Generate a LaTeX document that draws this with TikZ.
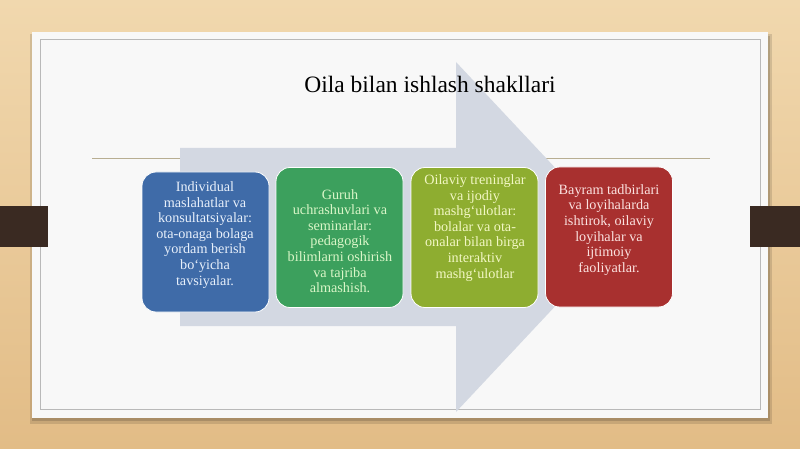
\documentclass[tikz,border=0pt]{standalone}
\usepackage{fontspec}
\setmainfont{Liberation Serif}
\definecolor{woodA}{HTML}{F1D8AE}
\definecolor{woodB}{HTML}{E2BC86}
\definecolor{panel}{HTML}{F8F8F8}
\definecolor{tab}{HTML}{3A2A22}
\definecolor{arrowc}{HTML}{D3D8E2}
\definecolor{rulec}{HTML}{B8AE92}
\definecolor{boxA}{HTML}{3F6BA8}
\definecolor{boxB}{HTML}{3CA05D}
\definecolor{boxC}{HTML}{8EAD30}
\definecolor{boxD}{HTML}{A8302F}
\definecolor{txtA}{HTML}{E8F0FB}
\definecolor{txtB}{HTML}{DAF6C8}
\definecolor{txtC}{HTML}{F2F7C4}
\definecolor{txtD}{HTML}{FBE2E0}
\tikzset{
  card/.style={draw=white, line width=0.8pt, rounded corners=14pt, minimum width=127pt, minimum height=140pt, inner sep=0pt},
  cardtext/.style={align=center, inner sep=0pt, font=\fontsize{14.2}{15.6}\selectfont},
}
\begin{document}
\begin{tikzpicture}[x=1pt,y=-1pt]
\useasboundingbox (0,0) rectangle (800,449);
\shade[top color=woodA, bottom color=woodB] (0,0) rectangle (800,449);
% panel shadow
\fill[black, opacity=0.12] (30,34) rectangle (772,424);
\fill[black, opacity=0.15] (32,36) rectangle (770,421);
\fill[panel] (32,32) rectangle (768,418);
\draw[gray!55, line width=0.8pt] (40,39) rectangle (760,409);
% tabs
\fill[tab] (0,206) rectangle (48,247);
\fill[tab] (750,206) rectangle (800,247);
% rule
\draw[rulec, line width=0.8pt] (92,158) -- (710,158);
% big arrow
\fill[arrowc] (180,148) -- (456,148) -- (456,62) -- (620,237) -- (456,412) -- (456,326) -- (180,326) -- cycle;
% title
\node[font=\fontsize{23.5}{27}\selectfont] (title) at (430,84) {Oila bilan ishlash shakllari};
% cards
\node[card, fill=boxA] (b1) at (205.5,242) {};
\node[card, fill=boxB] (b2) at (339.5,237.5) {};
\node[card, fill=boxC] (b3) at (474.5,237.5) {};
\node[card, fill=boxD] (b4) at (609,237) {};
\node[cardtext, text=txtA] (t1) at (205,235) {Individual\\maslahatlar va\\konsultatsiyalar:\\ota-onaga bolaga\\yordam berish\\bo‘yicha\\tavsiyalar.};
\node[cardtext, text=txtB] (t2) at (340,241) {Guruh\\uchrashuvlari va\\seminarlar:\\pedagogik\\bilimlarni oshirish\\va tajriba\\almashish.};
\node[cardtext, text=txtC] (t3) at (475,228) {Oilaviy treninglar\\va ijodiy\\mashg‘ulotlar:\\bolalar va ota-\\onalar bilan birga\\interaktiv\\mashg‘ulotlar};
\node[cardtext, text=txtD] (t4) at (609,230) {Bayram tadbirlari\\va loyihalarda\\ishtirok, oilaviy\\loyihalar va\\ijtimoiy\\faoliyatlar.};
\end{tikzpicture}
\end{document}
